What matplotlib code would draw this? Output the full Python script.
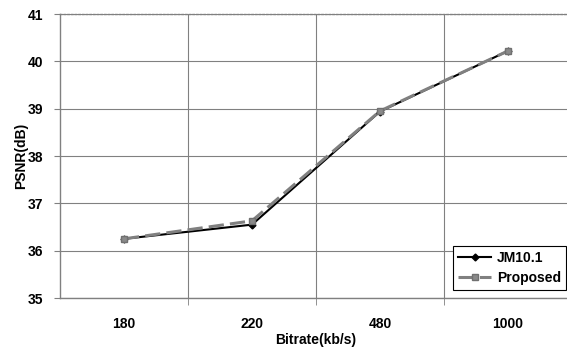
import matplotlib
matplotlib.use("Agg")
import matplotlib.pyplot as plt

# data
bitrates = ["180", "220", "480", "1000"]
jm101 = [36.25, 36.55, 38.94, 40.22]
proposed = [36.25, 36.63, 38.95, 40.22]

plt.rcParams['font.family'] = ['Liberation Sans', 'DejaVu Sans']
plt.rcParams['font.weight'] = 'bold'

fig = plt.figure(figsize=(5.67, 3.52), dpi=100)
ax = fig.add_axes([0.1058, 0.1534, 0.903, 0.8068])

x = list(range(len(bitrates)))
ax.plot(x, jm101, color='black', linewidth=1.5, marker='D', markersize=3.5,
        label='JM10.1', zorder=3)
ax.plot(x, proposed, color='#808080', linewidth=2.2, linestyle=(0, (5, 2)),
        marker='s', markersize=5, markerfacecolor='#8a8a8a', markeredgecolor='#707070',
        label='Proposed', zorder=4)

ax.set_xlim(-0.5, len(bitrates) - 0.5)
ax.set_ylim(35, 41)
ax.set_xticks(x)
ax.set_xticklabels(bitrates)
ax.set_xticks([i + 0.5 for i in x[:-1]], minor=True)
ax.tick_params(axis='x', which='major', length=0, pad=14, labelsize=10)
ax.tick_params(axis='x', which='minor', length=5, color='#808080', direction='out')
ax.tick_params(axis='y', length=4, color='#808080', labelsize=10, pad=8)

ax.grid(True, which='minor', axis='x', color='#808080', linewidth=0.8)
ax.grid(True, which='major', axis='y', color='#808080', linewidth=0.8)

for side in ['left', 'bottom', 'top']:
    ax.spines[side].set_color('#808080')
    ax.spines[side].set_linewidth(1.0)
ax.spines['top'].set_linestyle(':')
ax.spines['right'].set_visible(False)

ax.set_ylabel('PSNR(dB)', fontsize=10, fontweight='bold', labelpad=0)
ax.set_xlabel('Bitrate(kb/s)', fontsize=10, fontweight='bold', labelpad=1)

leg = ax.legend(loc='lower right', bbox_to_anchor=(0.988, 0.028), borderaxespad=0,
                fontsize=10, frameon=True, fancybox=False, edgecolor='black',
                framealpha=1, handlelength=2.4, handletextpad=0.4,
                borderpad=0.35, labelspacing=0.45)
leg.get_frame().set_linewidth(0.8)

plt.savefig('out.png', dpi=100)
